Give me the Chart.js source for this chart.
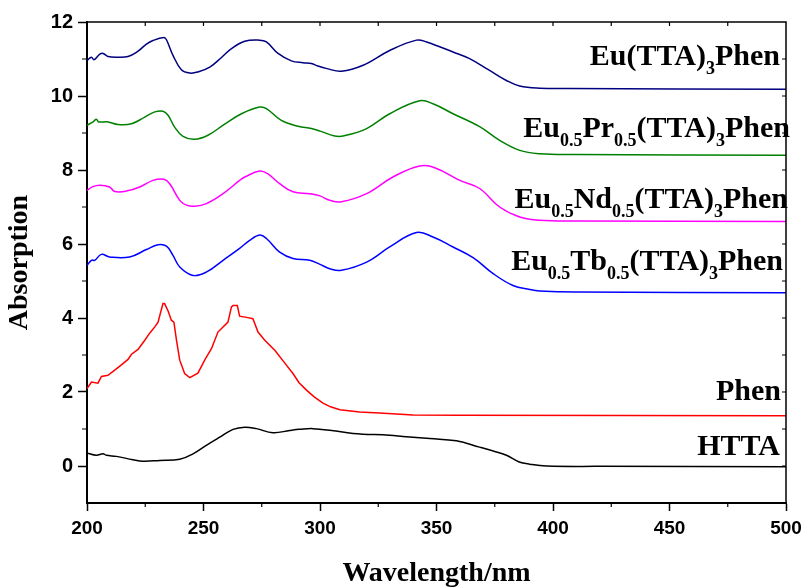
<!DOCTYPE html>
<html>
<head>
<meta charset="utf-8">
<title>UV-Vis absorption spectra</title>
<script src="https://cdn.jsdelivr.net/npm/chart.js@4.4.1/dist/chart.umd.min.js"></script>
<style>
  html, body { margin: 0; padding: 0; background: #fff; }
</style>
</head>
<body>
<canvas id="uvChart" width="809" height="588"></canvas>
<script>
// axis ticks
const xTicks = [200, 250, 300, 350, 400, 450, 500];
const yTicks = [0, 2, 4, 6, 8, 10, 12];

// Eu(TTA)3Phen
const euWl  = [200, 201.9, 203, 205.5, 206.9, 209, 213.3, 217.6, 221.2, 225.5, 228.3, 233, 234.1, 236.9, 240.5, 244.1, 247.6, 252.7, 257.7, 262, 267.7, 274.1, 277, 282, 287.7, 292.7, 296.3, 299.1, 303, 309.2, 318.5, 329.9, 341.4, 345.7, 357.1, 364.2, 372.8, 380, 385.7, 394.3, 407, 500];
const euAbs = [10.96, 11.05, 10.98, 11.13, 11.15, 11.07, 11.05, 11.07, 11.18, 11.40, 11.50, 11.58, 11.52, 11.10, 10.71, 10.62, 10.65, 10.78, 11.04, 11.28, 11.48, 11.51, 11.46, 11.15, 10.95, 10.90, 10.88, 10.81, 10.74, 10.67, 10.83, 11.23, 11.51, 11.46, 11.19, 11.01, 10.69, 10.42, 10.27, 10.21, 10.20, 10.18];

// Eu0.5Pr0.5(TTA)3Phen
const prWl  = [200, 202.6, 204, 205, 209, 213.3, 219.1, 224.8, 229.1, 232.6, 234.8, 237.6, 241.2, 246.2, 251.9, 259.1, 266.3, 274.1, 277, 283.4, 290.6, 296.3, 300, 306.3, 310, 320, 329.9, 342.8, 348.5, 357.1, 368.5, 377.1, 385.7, 394.3, 410, 500];
const prAbs = [9.21, 9.30, 9.37, 9.30, 9.30, 9.23, 9.25, 9.43, 9.57, 9.59, 9.48, 9.16, 8.91, 8.83, 8.94, 9.24, 9.52, 9.70, 9.66, 9.34, 9.18, 9.12, 9.05, 8.92, 8.92, 9.12, 9.52, 9.87, 9.79, 9.52, 9.17, 8.80, 8.53, 8.44, 8.42, 8.40];

// Eu0.5Nd0.5(TTA)3Phen
const ndWl  = [200, 202.5, 205.5, 209.7, 211.9, 216.9, 222.6, 228.3, 233, 235.5, 239.8, 242.7, 246.2, 251.2, 258.4, 265.5, 267.7, 274.1, 277.5, 282.7, 288.4, 295.6, 300, 304.2, 309.2, 320, 331.3, 342.8, 350, 360, 368.5, 377.1, 385.7, 394.3, 410, 500];
const ndAbs = [7.45, 7.55, 7.59, 7.54, 7.42, 7.43, 7.54, 7.72, 7.75, 7.63, 7.18, 7.05, 7.02, 7.09, 7.36, 7.72, 7.81, 7.97, 7.90, 7.63, 7.41, 7.36, 7.30, 7.18, 7.14, 7.36, 7.81, 8.11, 8.04, 7.72, 7.50, 7.00, 6.73, 6.64, 6.62, 6.61];

// Eu0.5Tb0.5(TTA)3Phen
const tbWl  = [200, 201.9, 203.3, 206.2, 209.7, 218.3, 225.5, 230.5, 234.1, 236.9, 239.8, 245.5, 251.2, 258.4, 265.5, 269.8, 274.1, 277, 282.7, 288.4, 295.6, 300, 304.2, 309.2, 320, 329.9, 341.4, 348.5, 357.1, 365.7, 374.3, 382.8, 390, 394.3, 410, 500];
const tbAbs = [5.42, 5.56, 5.56, 5.72, 5.65, 5.65, 5.85, 5.98, 5.94, 5.69, 5.38, 5.15, 5.24, 5.56, 5.88, 6.10, 6.24, 6.15, 5.78, 5.61, 5.56, 5.45, 5.33, 5.29, 5.51, 5.92, 6.31, 6.19, 5.92, 5.63, 5.20, 4.88, 4.77, 4.73, 4.70, 4.68];

// Phen
const phenWl  = [200, 201.9, 204.7, 206.2, 209, 211.9, 214.5, 217.6, 219.1, 221.9, 224.8, 226.9, 229.1, 230.5, 232.6, 233.3, 234.8, 236.2, 237.3, 238.4, 239.8, 241.9, 244.1, 247.6, 250.5, 253.4, 256.2, 260.5, 262, 262.7, 264.5, 265.5, 269.1, 271.2, 273.4, 276.3, 280.6, 284.9, 288.4, 291, 294.2, 297.5, 301.3, 304.5, 308.5, 317, 325.6, 339.9, 360, 500];
const phenAbs = [2.09, 2.27, 2.24, 2.42, 2.45, 2.59, 2.72, 2.88, 3.02, 3.15, 3.40, 3.59, 3.76, 3.89, 4.39, 4.39, 4.19, 3.94, 3.89, 3.40, 2.86, 2.50, 2.39, 2.51, 2.86, 3.17, 3.62, 3.89, 4.30, 4.34, 4.34, 4.05, 4.01, 3.98, 3.62, 3.40, 3.13, 2.78, 2.50, 2.25, 2.05, 1.87, 1.70, 1.60, 1.52, 1.46, 1.43, 1.38, 1.37, 1.36];

// HTTA
const httaWl  = [200, 204, 206.9, 208.3, 212.6, 219.7, 224, 231.2, 239.8, 245.5, 251.2, 257, 262.7, 267.7, 272.7, 279.8, 287, 291.3, 297, 305, 314.2, 329.9, 335.6, 347.1, 358.5, 368.5, 375.7, 380, 385.5, 390, 397.2, 420, 500];
const httaAbs = [0.35, 0.29, 0.33, 0.29, 0.26, 0.17, 0.13, 0.15, 0.18, 0.33, 0.56, 0.78, 0.99, 1.05, 1.01, 0.90, 0.96, 0.99, 1.01, 0.96, 0.88, 0.83, 0.80, 0.74, 0.68, 0.51, 0.38, 0.29, 0.11, 0.05, 0.0, -0.01, -0.02];

const pts = (wl, ab) => wl.map((w, i) => ({ x: w, y: ab[i] }));

const line = (data, color, tension) => ({
  data: data,
  borderColor: color,
  borderWidth: 1.5,
  pointRadius: 0,
  fill: false,
  tension: tension
});

// curve names, _{..} marks a subscript
const curveLabels = [
  { text: 'Eu(TTA)_{3}Phen', right: 780, base: 65 },
  { text: 'Eu_{0.5}Pr_{0.5}(TTA)_{3}Phen', right: 790, base: 137 },
  { text: 'Eu_{0.5}Nd_{0.5}(TTA)_{3}Phen', right: 788, base: 208 },
  { text: 'Eu_{0.5}Tb_{0.5}(TTA)_{3}Phen', right: 783, base: 270 },
  { text: 'Phen', right: 781, base: 400 },
  { text: 'HTTA', right: 780, base: 455 }
];

const mainFont = 'bold 30px "Liberation Serif", "Times New Roman", serif';
const subFont = 'bold 18px "Liberation Serif", "Times New Roman", serif';

const curveNames = {
  id: 'curveNames',
  afterDraw(chart) {
    const ctx = chart.ctx;
    ctx.save();
    ctx.fillStyle = '#000';
    ctx.textBaseline = 'alphabetic';
    ctx.textAlign = 'left';
    curveLabels.forEach(l => {
      const parts = l.text.split(/_\{([^}]*)\}/);
      let w = 0;
      parts.forEach((p, i) => {
        ctx.font = i % 2 ? subFont : mainFont;
        w += ctx.measureText(p).width;
      });
      let x = l.right - w;
      parts.forEach((p, i) => {
        const sub = i % 2 === 1;
        ctx.font = sub ? subFont : mainFont;
        ctx.fillText(p, x, l.base + (sub ? 9 : 0));
        x += ctx.measureText(p).width;
      });
    });
    ctx.restore();
  }
};

// closes the box and adds the minor ticks
const frame = {
  id: 'frame',
  afterDraw(chart) {
    const { ctx, chartArea: a, scales: { x, y } } = chart;
    ctx.save();
    ctx.strokeStyle = '#000';
    ctx.lineWidth = 1.5;
    ctx.beginPath();
    ctx.moveTo(a.left, a.top);
    ctx.lineTo(a.right, a.top);
    ctx.lineTo(a.right, a.bottom);
    ctx.stroke();

    ctx.lineWidth = 1.2;
    ctx.beginPath();
    for (let v = 225; v < 500; v += 50) {
      const px = x.getPixelForValue(v);
      ctx.moveTo(px, a.bottom);
      ctx.lineTo(px, a.bottom + 4);
    }
    for (let v = 1; v < 12; v += 2) {
      const py = y.getPixelForValue(v);
      ctx.moveTo(a.left, py);
      ctx.lineTo(a.left - 5, py);
    }
    for (let v = 225; v < 500; v += 25) {
      const px = x.getPixelForValue(v);
      ctx.moveTo(px, a.top);
      ctx.lineTo(px, a.top + 4);
    }
    for (let v = 0; v < 12; v += 1) {
      const py = y.getPixelForValue(v);
      ctx.moveTo(a.right, py);
      ctx.lineTo(a.right - 4, py);
    }
    ctx.stroke();
    ctx.restore();
  }
};

const ctx = document.getElementById('uvChart').getContext('2d');
const uvChart = new Chart(ctx, {
  type: 'line',
  data: {
    datasets: [
      line(pts(euWl, euAbs), '#000080', 0.4),
      line(pts(prWl, prAbs), '#008000', 0.4),
      line(pts(ndWl, ndAbs), '#ff00ff', 0.4),
      line(pts(tbWl, tbAbs), '#0000ff', 0.4),
      line(pts(phenWl, phenAbs), '#ff0000', 0),
      line(pts(httaWl, httaAbs), '#000000', 0.4)
    ]
  },
  options: {
    responsive: false,
    animation: false,
    devicePixelRatio: 1,
    layout: { padding: { top: 22, right: 23, left: 0, bottom: 0 } },
    plugins: { legend: { display: false }, tooltip: { enabled: false } },
    scales: {
      x: {
        type: 'linear',
        min: 200,
        max: 500,
        afterBuildTicks: s => { s.ticks = xTicks.map(v => ({ value: v })); },
        afterFit: s => { s.height = 85; },
        grid: { drawOnChartArea: false, drawTicks: true, tickLength: 8, tickColor: '#000', tickWidth: 1.5 },
        border: { color: '#000', width: 2 },
        ticks: {
          color: '#000',
          padding: 6,
          maxRotation: 0,
          autoSkip: false,
          font: { family: '"Liberation Sans", Arial, sans-serif', size: 19, weight: 'bold' }
        },
        title: {
          display: true,
          text: 'Wavelength/nm',
          color: '#000',
          padding: { top: 0, bottom: 0 },
          font: { family: '"Liberation Serif", "Times New Roman", serif', size: 28, weight: 'bold', lineHeight: 1 }
        }
      },
      y: {
        min: -1,
        max: 12,
        afterBuildTicks: s => { s.ticks = yTicks.map(v => ({ value: v })); },
        afterFit: s => { s.width = 87; },
        grid: { drawOnChartArea: false, drawTicks: true, tickLength: 9, tickColor: '#000', tickWidth: 1.5 },
        border: { color: '#000', width: 2 },
        ticks: {
          color: '#000',
          padding: 5,
          font: { family: '"Liberation Sans", Arial, sans-serif', size: 20, weight: 'bold' }
        },
        title: {
          display: true,
          text: 'Absorption',
          color: '#000',
          padding: { top: 6, bottom: 0 },
          font: { family: '"Liberation Serif", "Times New Roman", serif', size: 28, weight: 'bold', lineHeight: 1 }
        }
      }
    }
  },
  plugins: [frame, curveNames]
});
</script>
</body>
</html>
